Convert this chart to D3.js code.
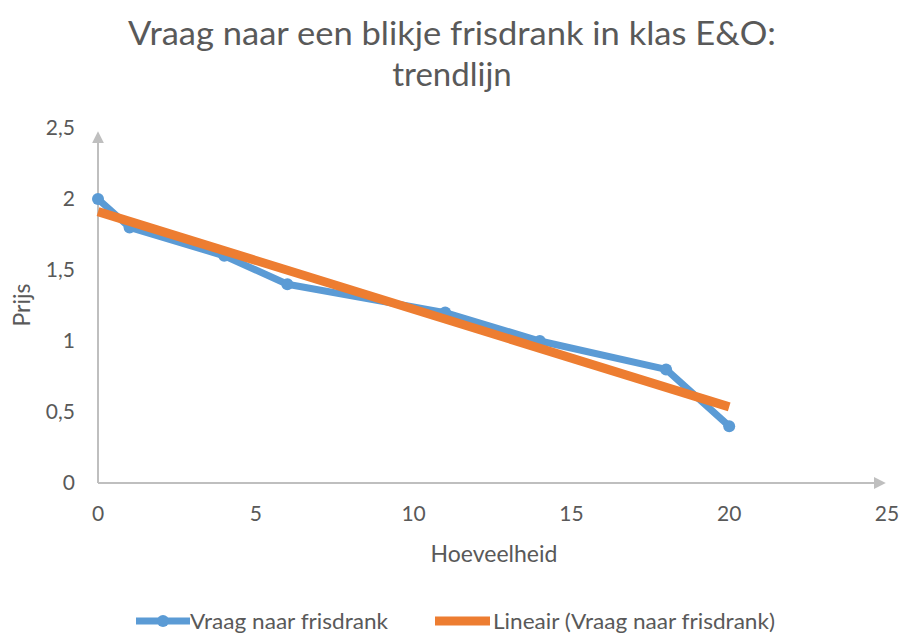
<!DOCTYPE html>
<html>
<head>
<meta charset="utf-8">
<script src="https://cdn.jsdelivr.net/npm/d3@7"></script>
<style>
  body { margin: 0; background: #fff; }
  text { font-family: Lato, 'Open Sans', sans-serif; fill: #595959; }
</style>
</head>
<body>
<div id="chart"></div>
<script>
const WIDTH = 904
const HEIGHT = 634

// data
const quantity = [0, 1, 4, 6, 11, 14, 18, 20]
const price = [2, 1.8, 1.6, 1.4, 1.2, 1.0, 0.8, 0.4]
const xTicks = [0, 5, 10, 15, 20, 25]
const yTicks = [0, 0.5, 1, 1.5, 2, 2.5]
const titleLines = ['Vraag naar een blikje frisdrank in klas E&O:', 'trendlijn']
const seriesName = 'Vraag naar frisdrank'
const trendName = 'Lineair (Vraag naar frisdrank)'

const BLUE = '#5B9BD5'
const ORANGE = '#ED7D31'
const AXIS = '#BFBFBF'

const points = quantity.map((q, i) => ({ x: q, y: price[i] }))

// least squares trendline, like the spreadsheet's "Lineair" option
const mx = d3.mean(quantity)
const my = d3.mean(price)
const sxy = d3.sum(points, d => (d.x - mx) * (d.y - my))
const sxx = d3.sum(points, d => (d.x - mx) ** 2)
const slope = sxy / sxx
const intercept = my - slope * mx
const trend = d3.extent(quantity).map(x => ({ x, y: intercept + slope * x }))

const svg = d3.select('#chart')
  .append('svg')
  .attr('width', WIDTH)
  .attr('height', HEIGHT)

const x = d3.scaleLinear().domain([0, 25]).range([98, 887])
const y = d3.scaleLinear().domain([0, 2.5]).range([483, 128])

// title
svg.append('g')
  .selectAll('text')
  .data(titleLines)
  .join('text')
  .attr('x', 452)
  .attr('y', (d, i) => 45 + i * 41)
  .attr('text-anchor', 'middle')
  .attr('font-size', 33)
  .attr('textLength', (d, i) => i === 0 ? 648 : null)
  .attr('lengthAdjust', 'spacingAndGlyphs')
  .text(d => d)

// axes with arrow heads
const defs = svg.append('defs')
defs.append('marker')
  .attr('id', 'arrow')
  .attr('viewBox', '0 0 10 10')
  .attr('refX', 1)
  .attr('refY', 5)
  .attr('markerWidth', 6)
  .attr('markerHeight', 6)
  .attr('markerUnits', 'strokeWidth')
  .attr('orient', 'auto')
  .append('path')
  .attr('d', 'M0,0 L10,5 L0,10 Z')
  .attr('fill', AXIS)

svg.append('line')
  .attr('x1', x(0)).attr('y1', y(0))
  .attr('x2', x(25) - 12).attr('y2', y(0))
  .attr('stroke', AXIS)
  .attr('stroke-width', 2)
  .attr('marker-end', 'url(#arrow)')

svg.append('line')
  .attr('x1', x(0)).attr('y1', y(0))
  .attr('x2', x(0)).attr('y2', y(2.5) + 14)
  .attr('stroke', AXIS)
  .attr('stroke-width', 2)
  .attr('marker-end', 'url(#arrow)')

// tick labels
svg.append('g')
  .selectAll('text')
  .data(xTicks)
  .join('text')
  .attr('x', d => x(d))
  .attr('y', 521)
  .attr('text-anchor', 'middle')
  .attr('font-size', 21)
  .text(d => d)

const fmt = d => String(d).replace('.', ',')
svg.append('g')
  .selectAll('text')
  .data(yTicks)
  .join('text')
  .attr('x', 75)
  .attr('y', d => y(d) + 7)
  .attr('text-anchor', 'end')
  .attr('font-size', 21)
  .text(fmt)

// axis titles
svg.append('text')
  .attr('x', 494)
  .attr('y', 562)
  .attr('text-anchor', 'middle')
  .attr('font-size', 23)
  .text('Hoeveelheid')

svg.append('text')
  .attr('transform', 'translate(30, 305) rotate(-90)')
  .attr('text-anchor', 'middle')
  .attr('font-size', 23)
  .text('Prijs')

// series
const line = d3.line()
  .x(d => x(d.x))
  .y(d => y(d.y))

svg.append('path')
  .datum(points)
  .attr('d', line)
  .attr('fill', 'none')
  .attr('stroke', BLUE)
  .attr('stroke-width', 7)
  .attr('stroke-linejoin', 'round')

svg.append('g')
  .selectAll('circle')
  .data(points)
  .join('circle')
  .attr('cx', d => x(d.x))
  .attr('cy', d => y(d.y))
  .attr('r', 6)
  .attr('fill', BLUE)

svg.append('path')
  .datum(trend)
  .attr('d', line)
  .attr('fill', 'none')
  .attr('stroke', ORANGE)
  .attr('stroke-width', 9)

// legend
const legend = svg.append('g').attr('transform', 'translate(0, 621)')
legend.append('line')
  .attr('x1', 136).attr('x2', 190)
  .attr('stroke', BLUE).attr('stroke-width', 7)
legend.append('circle')
  .attr('cx', 163).attr('r', 6).attr('fill', BLUE)
legend.append('text')
  .attr('x', 190).attr('y', 8)
  .attr('font-size', 22)
  .attr('textLength', 198)
  .attr('lengthAdjust', 'spacingAndGlyphs')
  .text(seriesName)

legend.append('line')
  .attr('x1', 435).attr('x2', 490)
  .attr('stroke', ORANGE).attr('stroke-width', 9)
legend.append('text')
  .attr('x', 493).attr('y', 8)
  .attr('font-size', 22)
  .attr('textLength', 282)
  .attr('lengthAdjust', 'spacingAndGlyphs')
  .text(trendName)
</script>
</body>
</html>
